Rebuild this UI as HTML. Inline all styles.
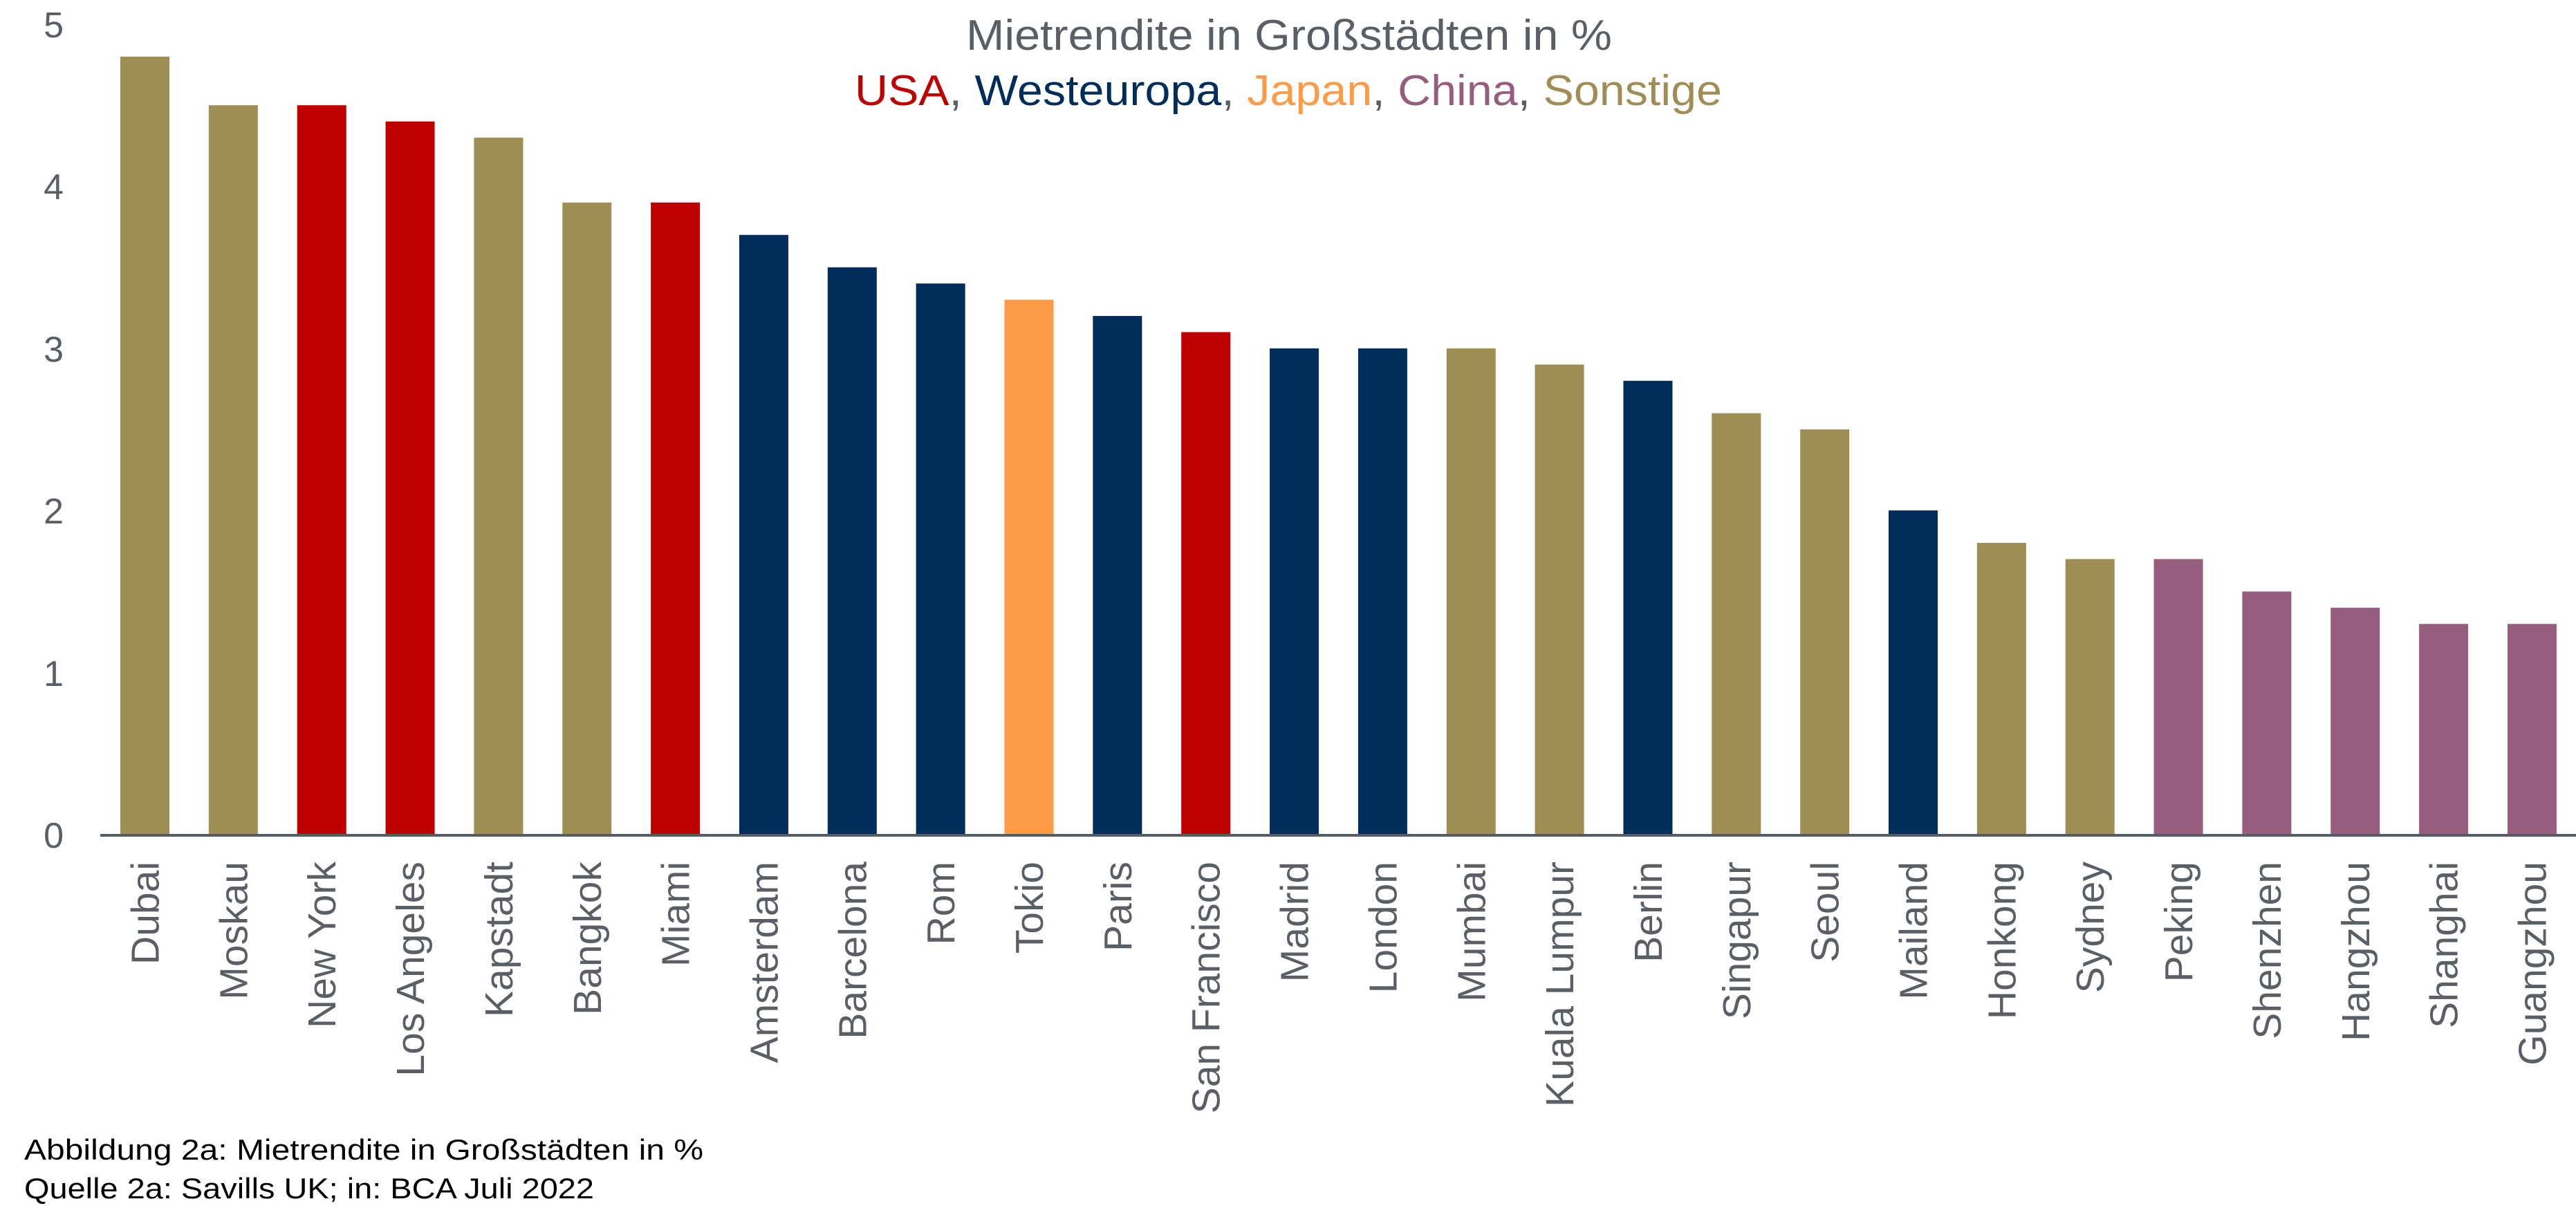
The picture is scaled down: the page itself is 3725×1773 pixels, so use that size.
<!DOCTYPE html>
<html><head><meta charset="utf-8"><style>html,body{margin:0;padding:0;background:#fff}svg{display:block}</style></head>
<body>
<svg width="3725" height="1773" viewBox="0 0 3725 1773" xmlns="http://www.w3.org/2000/svg" font-family="Liberation Sans, sans-serif">
<rect width="3725" height="1773" fill="#fff"/>
<text x="1397" y="72" font-size="62" fill="#5a5f66" textLength="934" lengthAdjust="spacingAndGlyphs">Mietrendite in Großstädten in %</text>
<text x="1236" y="152" font-size="62" fill="#5a5f66" textLength="1254" lengthAdjust="spacingAndGlyphs"><tspan fill="#C00000">USA</tspan>, <tspan fill="#002D5A">Westeuropa</tspan>, <tspan fill="#FF9B47">Japan</tspan>, <tspan fill="#985C7E">China</tspan>, <tspan fill="#9E8E55">Sonstige</tspan></text>
<g font-size="52" fill="#5a5f66" text-anchor="end">
<text x="92" y="54">5</text><text x="92" y="288">4</text><text x="92" y="523">3</text><text x="92" y="757">2</text><text x="92" y="992">1</text><text x="92" y="1226">0</text>
</g>
<g id="bars"></g>
<line x1="145" y1="1208" x2="3725" y2="1208" stroke="#555b63" stroke-width="4"/>
<g id="labels" font-size="57" fill="#5a5f66" text-anchor="end"></g>
<text x="35" y="1677" font-size="42" fill="#000" textLength="982" lengthAdjust="spacingAndGlyphs">Abbildung 2a: Mietrendite in Großstädten in %</text>
<text x="35" y="1733" font-size="42" fill="#000" textLength="824" lengthAdjust="spacingAndGlyphs">Quelle 2a: Savills UK; in: BCA Juli 2022</text>
<script>
var G="#9E8E55",R="#C00000",N="#002D5A",O="#FF9B47",P="#985C7E";
var d=[["Dubai",4.8,G],["Moskau",4.5,G],["New York",4.5,R],["Los Angeles",4.4,R],["Kapstadt",4.3,G],["Bangkok",3.9,G],["Miami",3.9,R],["Amsterdam",3.7,N],["Barcelona",3.5,N],["Rom",3.4,N],["Tokio",3.3,O],["Paris",3.2,N],["San Francisco",3.1,R],["Madrid",3.0,N],["London",3.0,N],["Mumbai",3.0,G],["Kuala Lumpur",2.9,G],["Berlin",2.8,N],["Singapur",2.6,G],["Seoul",2.5,G],["Mailand",2.0,N],["Honkong",1.8,G],["Sydney",1.7,G],["Peking",1.7,P],["Shenzhen",1.5,P],["Hangzhou",1.4,P],["Shanghai",1.3,P],["Guangzhou",1.3,P]];
var ns="http://www.w3.org/2000/svg",b=document.getElementById("bars"),l=document.getElementById("labels");
d.forEach(function(e,i){var x=174+i*127.85,h=e[1]*234.4;
var r=document.createElementNS(ns,"rect");r.setAttribute("x",x);r.setAttribute("y",1207-h);r.setAttribute("width",71);r.setAttribute("height",h);r.setAttribute("fill",e[2]);b.appendChild(r);
var t=document.createElementNS(ns,"text");var cx=x+35.5+20;t.setAttribute("transform","translate("+cx+",1246) rotate(-90)");t.textContent=e[0];l.appendChild(t);});
</script>
</svg>
</body></html>
